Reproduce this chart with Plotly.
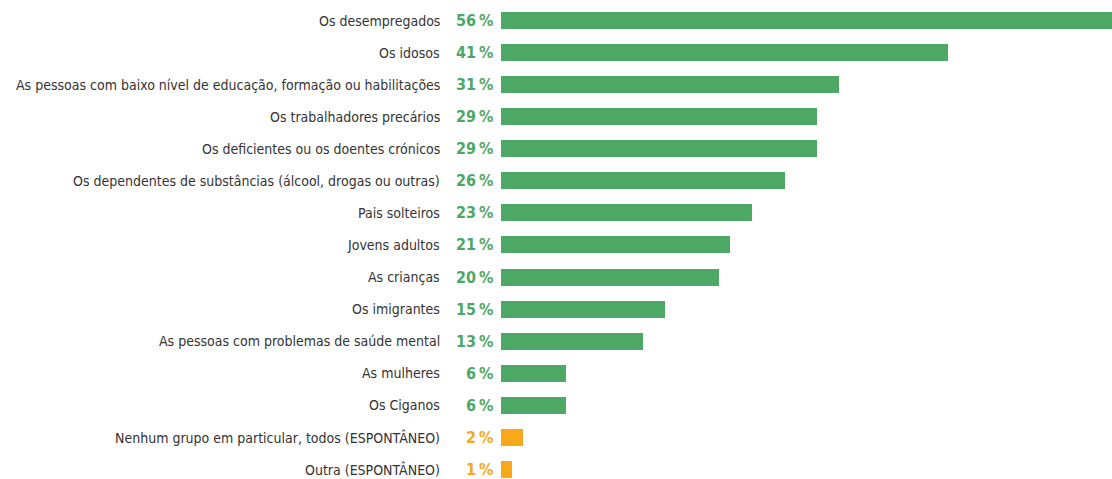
import plotly.graph_objects as go

categories = [
    "Os desempregados",
    "Os idosos",
    "As pessoas com baixo nível de educação, formação ou habilitações",
    "Os trabalhadores precários",
    "Os deficientes ou os doentes crónicos",
    "Os dependentes de substâncias (álcool, drogas ou outras)",
    "Pais solteiros",
    "Jovens adultos",
    "As crianças",
    "Os imigrantes",
    "As pessoas com problemas de saúde mental",
    "As mulheres",
    "Os Ciganos",
    "Nenhum grupo em particular, todos (ESPONTÂNEO)",
    "Outra (ESPONTÂNEO)",
]
values = [56, 41, 31, 29, 29, 26, 23, 21, 20, 15, 13, 6, 6, 2, 1]
spontaneous = [False] * 13 + [True, True]

GREEN = "#4ea865"
ORANGE = "#f7a81b"
colors = [ORANGE if s else GREEN for s in spontaneous]
ypos = list(range(len(categories)))

fig = go.Figure(go.Bar(
    x=values, y=ypos, orientation="h",
    marker=dict(color=colors, line=dict(width=0)),
    width=0.53, hoverinfo="skip",
))

FONT = "DejaVu Sans Condensed, sans-serif"
ann = []
for i, (c, v, col) in enumerate(zip(categories, values, colors)):
    ann.append(dict(x=0, y=i, xref="x", yref="y", text=c, showarrow=False,
                    xanchor="right", xshift=-59,
                    font=dict(family=FONT, size=14, color="#333333")))
    ann.append(dict(x=0, y=i, xref="x", yref="y", text=f"<b>{v}\u2009%</b>", showarrow=False,
                    xanchor="right", xshift=-6,
                    font=dict(family=FONT, size=16, color=col)))

fig.update_layout(
    width=1112, height=479,
    margin=dict(l=501, r=0, t=0, b=0),
    paper_bgcolor="white", plot_bgcolor="white",
    showlegend=False,
    xaxis=dict(range=[0, 56], visible=False, fixedrange=True),
    yaxis=dict(range=[14.3, -0.64], visible=False, fixedrange=True),
    annotations=ann,
    bargap=0,
)
fig.write_html("out.html", config={"displayModeBar": False},
               post_script="document.body.style.margin='0';document.body.style.overflow='hidden';")
